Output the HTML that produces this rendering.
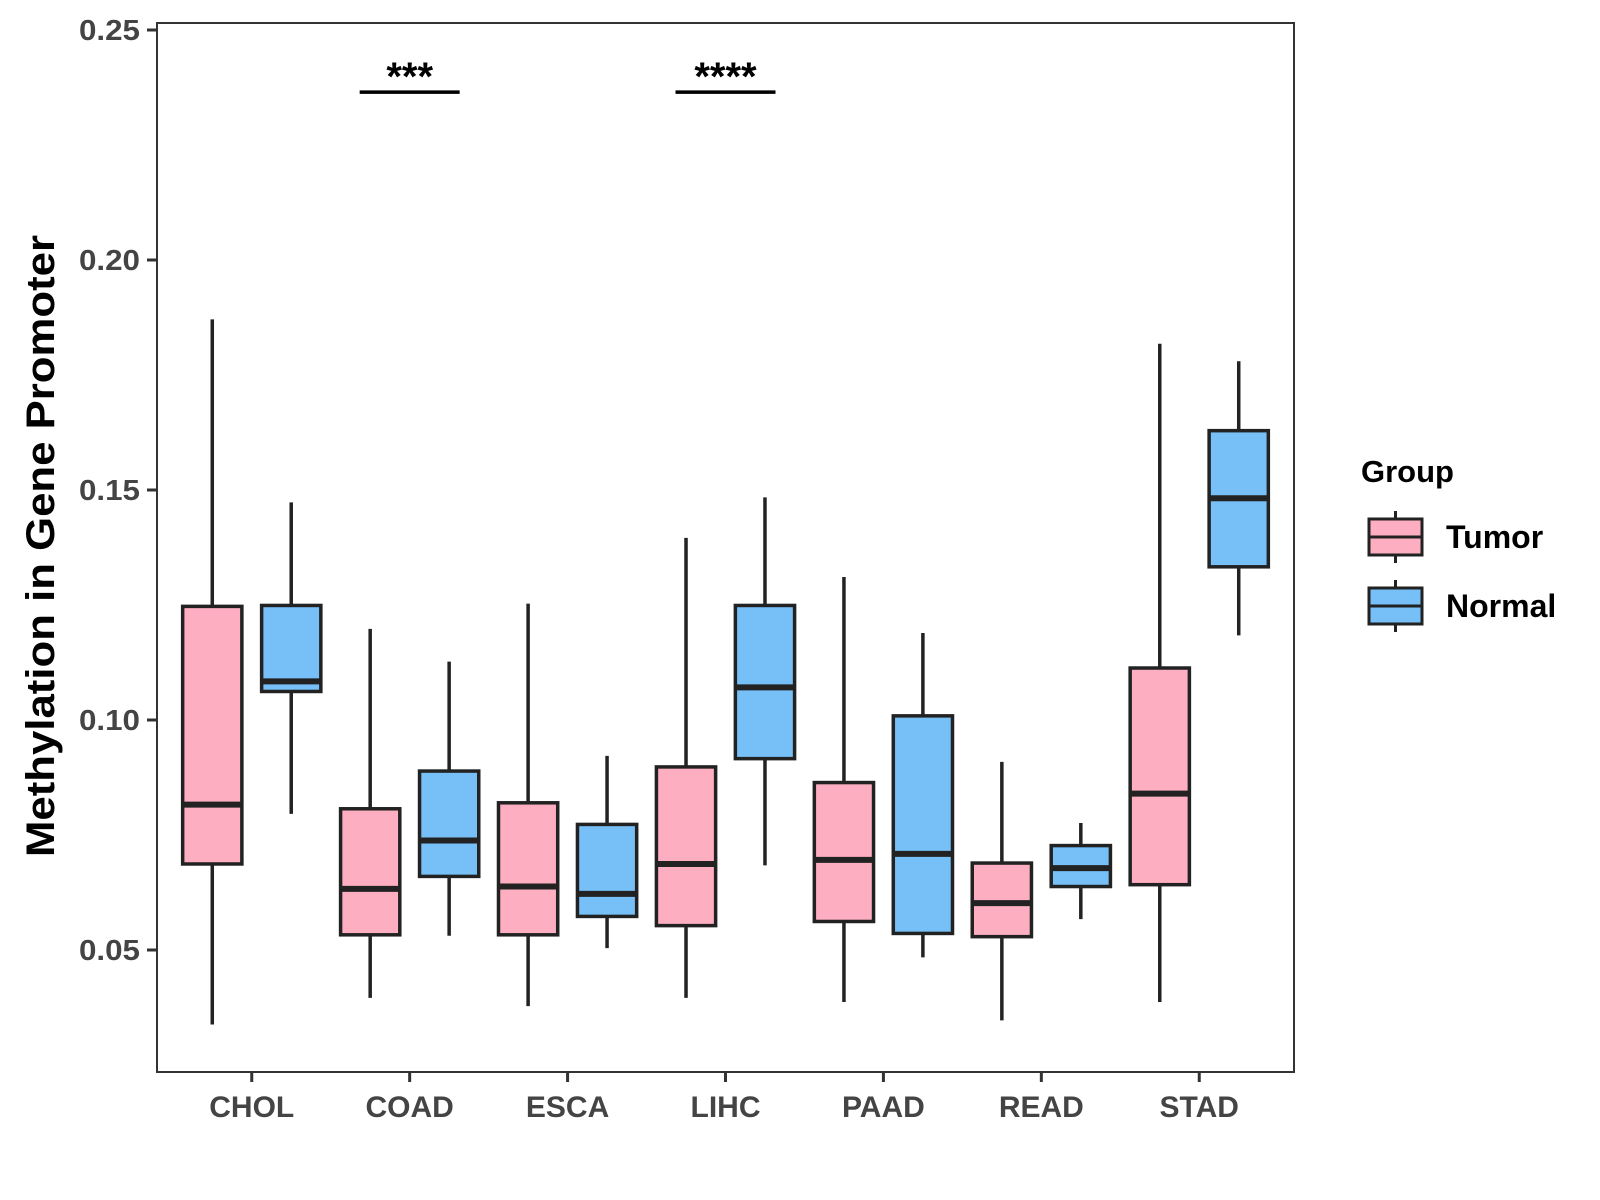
<!DOCTYPE html>
<html><head><meta charset="utf-8"><style>body{margin:0;background:#fff}svg{display:block;font-family:"Liberation Sans",Arial,sans-serif;font-weight:bold}</style></head>
<body>
<svg id="chart" width="1600" height="1200" viewBox="0 0 1600 1200" xmlns="http://www.w3.org/2000/svg"></svg>
<script>
const categories=["CHOL","COAD","ESCA","LIHC","PAAD","READ","STAD"];
// [lowWhisker,q1,median,q3,highWhisker]
const tumorStats=[[0.0338,0.0687,0.0816,0.1247,0.1871],[0.0396,0.0533,0.0633,0.0807,0.1198],[0.0378,0.0533,0.0638,0.0820,0.1253],[0.0396,0.0553,0.0687,0.0898,0.1396],[0.0387,0.0562,0.0696,0.0864,0.1311],[0.0347,0.0529,0.0602,0.0689,0.0909],[0.0387,0.0642,0.0840,0.1113,0.1818]];
const normalStats=[[0.0796,0.1062,0.1084,0.1249,0.1473],[0.0531,0.0660,0.0738,0.0889,0.1127],[0.0504,0.0573,0.0622,0.0773,0.0922],[0.0684,0.0916,0.1071,0.1249,0.1484],[0.0484,0.0536,0.0709,0.1009,0.1189],[0.0567,0.0638,0.0678,0.0727,0.0776],[0.1184,0.1333,0.1482,0.1629,0.1780]];
const yTicks=[0.05,0.10,0.15,0.20,0.25];
const yTickLabels=["0.05","0.10","0.15","0.20","0.25"];
const sigCategories=["COAD","LIHC"];
const sigLabels=["***","****"];
const sigLevel=0.2365;

const NS="http://www.w3.org/2000/svg",svg=document.getElementById("chart");
const L=157,R=1294,T=23,B=1072;
const unit=(R-L)/7.2;
const xc=i=>L+(i+0.6)*unit;
const y=v=>30+(0.25-v)*4600;
function el(tag,a,parent){const e=document.createElementNS(NS,tag);for(const k in a)e.setAttribute(k,a[k]);(parent||svg).appendChild(e);return e;}
function txt(s,a){const e=el("text",a);e.textContent=s;return e;}

const frame=el("rect",{x:L,y:T,width:R-L,height:B-T,fill:"none",stroke:"#333","stroke-width":2});



yTicks.forEach((v,i)=>{
 const t=el("line",{x1:L-10,x2:L,y1:y(v),y2:y(v),stroke:"#333","stroke-width":3});
 
 
 const l=txt(yTickLabels[i],{x:L-17,y:y(v)+10,"text-anchor":"end","font-size":29,fill:"#444",textLength:61,lengthAdjust:"spacingAndGlyphs"});
 
 
});
categories.forEach((c,i)=>{
 const t=el("line",{x1:xc(i),x2:xc(i),y1:B,y2:B+10,stroke:"#333","stroke-width":3});
 
 
 const l=txt(c,{x:xc(i),y:1117,"text-anchor":"middle","font-size":30,fill:"#444"});
 
 
});
const yt=txt("Methylation in Gene Promoter",{transform:"translate(54,546) rotate(-90)","text-anchor":"middle","font-size":40,fill:"#000",textLength:622,lengthAdjust:"spacingAndGlyphs"});



const bw=unit*0.375, off=unit*0.25;
function box(s,cx,fill,name){
 const g=el("g",{});
 
 
 el("line",{x1:cx,x2:cx,y1:y(s[0]),y2:y(s[4]),stroke:"#222","stroke-width":3.5},g);
 el("rect",{x:cx-bw/2,y:y(s[3]),width:bw,height:y(s[1])-y(s[3]),fill:fill,stroke:"#222","stroke-width":3.5},g);
 el("line",{x1:cx-bw/2,x2:cx+bw/2,y1:y(s[2]),y2:y(s[2]),stroke:"#222","stroke-width":6},g);
}
categories.forEach((c,i)=>{
 box(tumorStats[i],xc(i)-off,"#FDAFC1","box-tumor-"+c.toLowerCase());
 box(normalStats[i],xc(i)+off,"#76BFF7","box-normal-"+c.toLowerCase());
});
sigCategories.forEach((c,k)=>{
 const i=categories.indexOf(c);
 const ln=el("line",{x1:xc(i)-50,x2:xc(i)+50,y1:y(sigLevel),y2:y(sigLevel),stroke:"#000","stroke-width":3.5});
 
 
 const t=txt(sigLabels[k],{x:xc(i),y:y(sigLevel)-2,"text-anchor":"middle","font-size":40,fill:"#000"});
 
 
});
const lt=txt("Group",{x:1361,y:482,"font-size":31,fill:"#000"});


[["Tumor","#FDAFC1",519],["Normal","#76BFF7",588]].forEach(([n,f,ty])=>{
 const g=el("g",{});
 
 
 const cx=1395.5;
 el("line",{x1:cx,x2:cx,y1:ty-8,y2:ty+44,stroke:"#222","stroke-width":3},g);
 el("rect",{x:1369,y:ty,width:53,height:36,fill:f,stroke:"#222","stroke-width":3},g);
 el("line",{x1:1369,x2:1422,y1:ty+18,y2:ty+18,stroke:"#222","stroke-width":3},g);
 const t=el("text",{x:1446,y:ty+29,"font-size":32,fill:"#000"},g);t.textContent=n;
});
</script>
</body></html>
